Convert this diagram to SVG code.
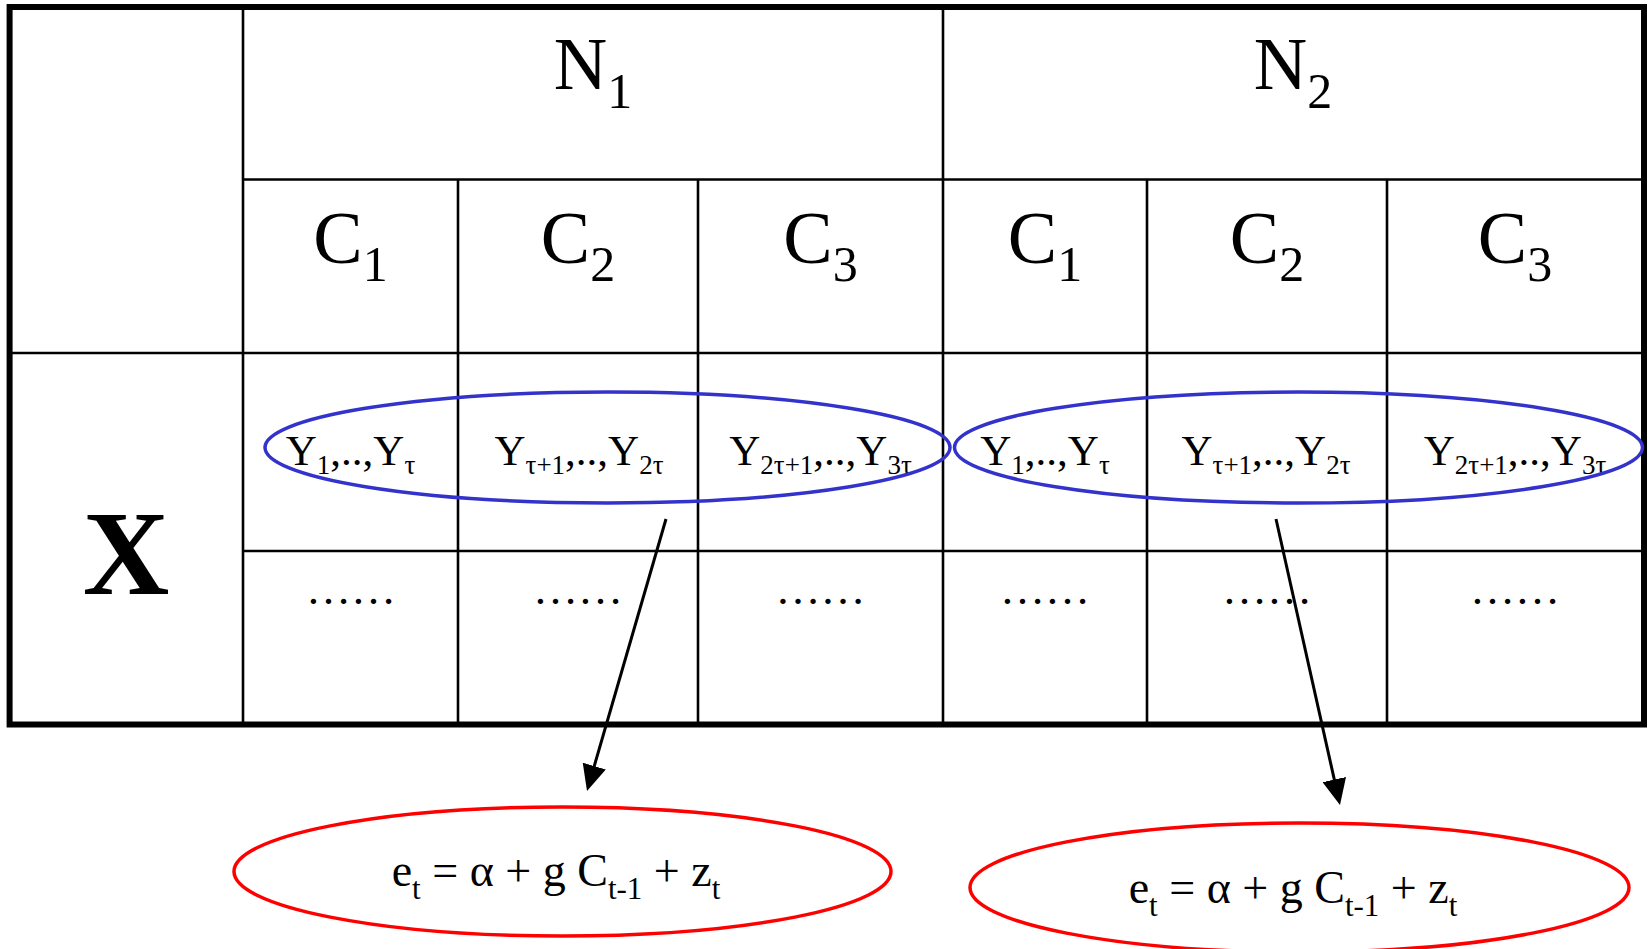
<svg xmlns="http://www.w3.org/2000/svg" width="1648" height="949" viewBox="0 0 1648 949">
<style>
text{font-family:"Liberation Serif","Times New Roman",serif;fill:#000;text-anchor:middle}
.hdr{font-size:74px}
.hs{font-size:50px}
.y{font-size:43px}
.ys{font-size:27px}
.dots{font-size:45px}
.eq{font-size:46px}
.es{font-size:31px}
.x{font-size:120px;font-weight:bold}
.grid{stroke:#000;stroke-width:2.6;fill:none}
.outer{stroke:#000;stroke-width:6;fill:none}
.blue{stroke:#3333cc;stroke-width:3.5;fill:none}
.red{stroke:#ff0000;stroke-width:3.5;fill:none}
.conn{stroke:#000;stroke-width:3;fill:none}
</style>
<defs>
<marker id="ah" markerUnits="userSpaceOnUse" viewBox="0 0 26 24" markerWidth="26" markerHeight="24" refX="16" refY="12" orient="auto">
<path d="M0,0 L26,12 L0,24 Z" fill="#000"/>
</marker>
</defs>
<rect width="1648" height="949" fill="#fff"/>
<g id="table">
<line class="grid" x1="243" y1="7" x2="243" y2="724"/>
<line class="grid" x1="943" y1="7" x2="943" y2="724"/>
<line class="grid" x1="243" y1="179.5" x2="1644" y2="179.5"/>
<line class="grid" x1="9.6" y1="353" x2="1644" y2="353"/>
<line class="grid" x1="243" y1="551" x2="1644" y2="551"/>
<line class="grid" x1="458" y1="179.5" x2="458" y2="724"/>
<line class="grid" x1="698" y1="179.5" x2="698" y2="724"/>
<line class="grid" x1="1147" y1="179.5" x2="1147" y2="724"/>
<line class="grid" x1="1387" y1="179.5" x2="1387" y2="724"/>
<rect class="outer" x="9.6" y="7" width="1634.4" height="717.5"/>
</g>
<g id="headers">
<text class="hdr" x="593" y="89">N<tspan class="hs" dy="19">1</tspan></text>
<text class="hdr" x="1293" y="89">N<tspan class="hs" dy="19">2</tspan></text>
<text class="hdr" x="350.5" y="263">C<tspan class="hs" dy="18">1</tspan></text>
<text class="hdr" x="578" y="263">C<tspan class="hs" dy="18">2</tspan></text>
<text class="hdr" x="820.5" y="263">C<tspan class="hs" dy="18">3</tspan></text>
<text class="hdr" x="1045" y="263">C<tspan class="hs" dy="18">1</tspan></text>
<text class="hdr" x="1267" y="263">C<tspan class="hs" dy="18">2</tspan></text>
<text class="hdr" x="1515" y="263">C<tspan class="hs" dy="18">3</tspan></text>
<text class="x" x="126" y="594">X</text>
</g>
<g id="cells">
<text class="y" x="350.5" y="465">Y<tspan class="ys" dy="9">1</tspan><tspan dy="-9">,..,Y</tspan><tspan class="ys" dy="9">τ</tspan></text>
<text class="y" x="579" y="465">Y<tspan class="ys" dy="9">τ+1</tspan><tspan dy="-9">,..,Y</tspan><tspan class="ys" dy="9">2τ</tspan></text>
<text class="y" x="820.5" y="465">Y<tspan class="ys" dy="9">2τ+1</tspan><tspan dy="-9">,..,Y</tspan><tspan class="ys" dy="9">3τ</tspan></text>
<text class="y" x="1045" y="465">Y<tspan class="ys" dy="9">1</tspan><tspan dy="-9">,..,Y</tspan><tspan class="ys" dy="9">τ</tspan></text>
<text class="y" x="1266" y="465">Y<tspan class="ys" dy="9">τ+1</tspan><tspan dy="-9">,..,Y</tspan><tspan class="ys" dy="9">2τ</tspan></text>
<text class="y" x="1515" y="465">Y<tspan class="ys" dy="9">2τ+1</tspan><tspan dy="-9">,..,Y</tspan><tspan class="ys" dy="9">3τ</tspan></text>
<text class="dots" x="351" y="604">……</text>
<text class="dots" x="578" y="604">……</text>
<text class="dots" x="820.5" y="604">……</text>
<text class="dots" x="1045" y="604">……</text>
<text class="dots" x="1267" y="604">……</text>
<text class="dots" x="1515" y="604">……</text>
</g>
<g id="group1">
<ellipse class="blue" cx="607.5" cy="447.5" rx="342.5" ry="55.5"/>
</g>
<g id="group2">
<ellipse class="blue" cx="1298.5" cy="447.5" rx="344" ry="55.5"/>
</g>
<g id="eq1">
<ellipse class="red" cx="562.5" cy="871.5" rx="328.5" ry="64.5"/>
<text class="eq" x="556" y="886">e<tspan class="es" dy="13">t</tspan><tspan dy="-13"> = α + g C</tspan><tspan class="es" dy="13">t-1</tspan><tspan dy="-13"> + z</tspan><tspan class="es" dy="13">t</tspan></text>
</g>
<g id="eq2">
<ellipse class="red" cx="1299.5" cy="887.5" rx="329.5" ry="64.5"/>
<text class="eq" x="1293" y="903">e<tspan class="es" dy="13">t</tspan><tspan dy="-13"> = α + g C</tspan><tspan class="es" dy="13">t-1</tspan><tspan dy="-13"> + z</tspan><tspan class="es" dy="13">t</tspan></text>
</g>
<g id="connectors">
<line class="conn" x1="666" y1="519" x2="589.8" y2="781.4" marker-end="url(#ah)"/>
<line class="conn" x1="1276" y1="519" x2="1337.8" y2="795.2" marker-end="url(#ah)"/>
</g>
</svg>
